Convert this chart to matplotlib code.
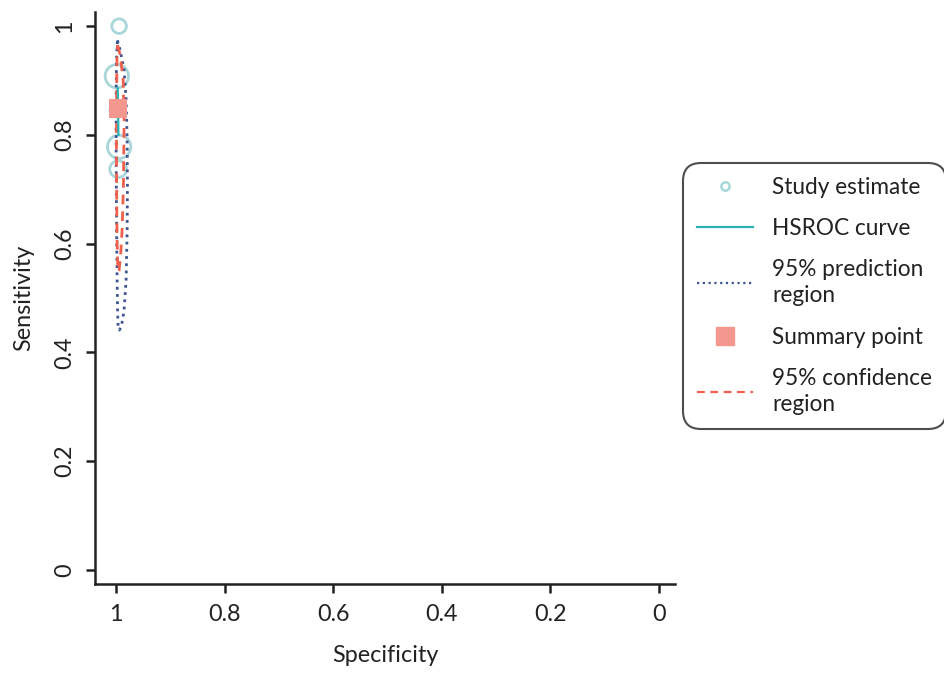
import matplotlib

matplotlib.use("Agg")
import matplotlib.pyplot as plt
from matplotlib.lines import Line2D

plt.rcParams["font.family"] = ["Lato", "DejaVu Sans"]

# study-level estimates (specificity, sensitivity) and relative study weight
study_spec = [0.9945, 0.9987, 0.9980, 0.9945, 0.9963]
study_sens = [1.000, 0.908, 0.846, 0.778, 0.737]
study_weight = [1.0, 1.6, 1.0, 1.6, 1.15]

# summary operating point
summary_spec = 0.9963
summary_sens = 0.849

# HSROC curve, restricted to the range of the data
hsroc_spec = [0.9970, 0.9965, 0.9958]
hsroc_sens = [0.886, 0.849, 0.800]

# 95% prediction region boundary
pred_spec = [0.9976, 0.9926, 0.9853, 0.9816, 0.9797, 0.9792, 0.9797, 0.9816,
             0.9853, 0.9899, 0.9939, 0.9963, 0.9972, 0.9982, 0.9991, 1.0000,
             1.0000, 0.9994, 0.9976]
pred_sens = [0.974, 0.956, 0.919, 0.864, 0.790, 0.708, 0.625, 0.533,
             0.478, 0.450, 0.441, 0.445, 0.472, 0.533, 0.625, 0.754,
             0.864, 0.9375, 0.974]

# 95% confidence region boundary
conf_spec = [0.9972, 0.9926, 0.9871, 0.9853, 0.9866, 0.9890, 0.9917, 0.9945,
             0.9963, 0.9978, 0.9987, 0.9994, 0.9991, 0.9985, 0.9972]
conf_sens = [0.965, 0.947, 0.901, 0.827, 0.704, 0.625, 0.579, 0.551,
             0.548, 0.579, 0.643, 0.772, 0.882, 0.9375, 0.965]

ticks = [1, 0.8, 0.6, 0.4, 0.2, 0]
tick_labels = ["1", "0.8", "0.6", "0.4", "0.2", "0"]

circle_col = "#a9d6d9"
hsroc_col = "#2ab3b5"
pred_col = "#3d5590"
summary_col = "#f4978e"
conf_col = "#f0604d"
text_col = "#222222"

fig = plt.figure(figsize=(9.45, 6.75), dpi=100)
ax = fig.add_axes([0.1005, 0.1348, 0.6138, 0.8474])

ax.scatter(study_spec, study_sens, s=[(10.5 * w) ** 2 for w in study_weight],
           facecolors="none", edgecolors=circle_col, linewidths=2.0, zorder=2)
ax.plot(pred_spec, pred_sens, color=pred_col, lw=2.0, ls=(0, (1, 1.6)), zorder=3)
ax.plot(conf_spec, conf_sens, color=conf_col, lw=2.0, ls=(0, (3.5, 2.5)), zorder=4)
ax.plot(hsroc_spec, hsroc_sens, color=hsroc_col, lw=1.6, zorder=5)
ax.scatter([summary_spec], [summary_sens], marker="s", s=180,
           color=summary_col, edgecolors="none", zorder=6)

ax.set_xlim(1.039, -0.03)
ax.set_ylim(-0.026, 1.026)
ax.set_xticks(ticks, labels=tick_labels)
ax.set_yticks(ticks, labels=tick_labels)
for lab in ax.get_yticklabels():
    lab.set_rotation(90)
    lab.set_va("center")

for side in ("top", "right"):
    ax.spines[side].set_visible(False)
for side in ("left", "bottom"):
    ax.spines[side].set_linewidth(1.8)
    ax.spines[side].set_color(text_col)
ax.tick_params(axis="both", length=6.5, width=1.8, color=text_col,
               labelsize=16.8, labelcolor=text_col)
ax.tick_params(axis="x", pad=8)
ax.tick_params(axis="y", pad=8)

ax.set_xlabel("Specificity", fontsize=16.8, color=text_col, labelpad=14)
ax.set_ylabel("Sensitivity", fontsize=16.8, color=text_col, labelpad=14)

handles = [
    Line2D([], [], ls="none", marker="o", markersize=6, markerfacecolor="none",
           markeredgecolor=circle_col, markeredgewidth=1.8),
    Line2D([], [], color=hsroc_col, lw=1.6),
    Line2D([], [], color=pred_col, lw=1.6, ls=(0, (1, 1.6))),
    Line2D([], [], ls="none", marker="s", markersize=12.5, color=summary_col),
    Line2D([], [], color=conf_col, lw=1.6, ls=(0, (3.5, 2.5))),
]
labels = ["Study estimate", "HSROC curve", "95% prediction\nregion",
          "Summary point", "95% confidence\nregion"]
leg = fig.legend(handles, labels, loc="upper left",
                 bbox_to_anchor=(683 / 945, 1 - 163 / 675), borderaxespad=0,
                 fontsize=16.3, frameon=True, fancybox=True,
                 handlelength=2.5, handletextpad=0.85, labelspacing=0.9,
                 borderpad=0.6, labelcolor=text_col)
for txt in leg.get_texts():
    txt.set_linespacing(1.3)
frame = leg.get_frame()
frame.set_edgecolor(text_col)
frame.set_linewidth(1.5)
frame.set_boxstyle("round", pad=0, rounding_size=0.8)

fig.savefig("out.png", dpi=100)
